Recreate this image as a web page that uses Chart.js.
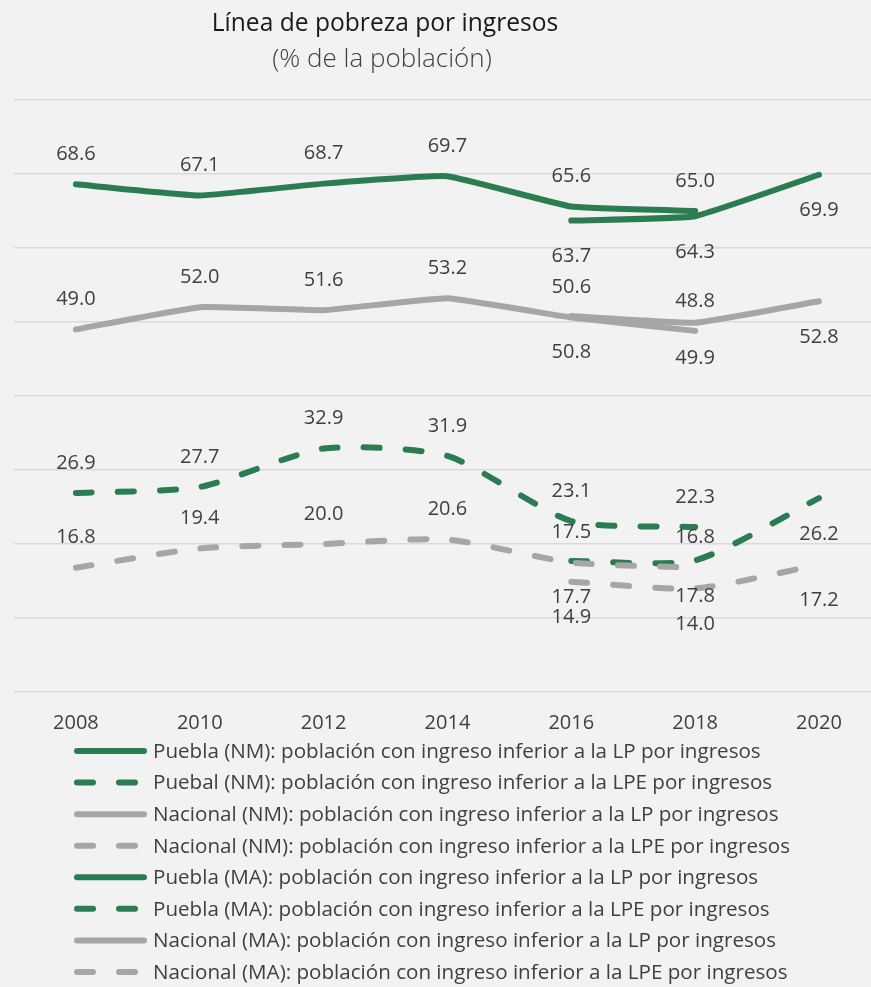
<!DOCTYPE html>
<html lang="es">
<head>
<meta charset="utf-8">
<title>Línea de pobreza por ingresos</title>
<script src="https://cdn.jsdelivr.net/npm/chart.js@4.4.1/dist/chart.umd.min.js"></script>
<style>
  html, body { margin: 0; padding: 0; background: #f2f2f2; }
  #wrap { width: 871px; height: 987px; position: relative; }
</style>
</head>
<body>
<div id="wrap"><canvas id="chart"></canvas></div>
<script>
// Data (null = no value for that year)
const years = [2008, 2010, 2012, 2014, 2016, 2018, 2020];
const pueblaNmLp    = [68.6, 67.1, 68.7, 69.7, 65.6, 65.0, null];
const pueblaNmLpe   = [26.9, 27.7, 32.9, 31.9, 23.1, 22.3, null];
const nacionalNmLp  = [49.0, 52.0, 51.6, 53.2, 50.6, 48.8, null];
const nacionalNmLpe = [16.8, 19.4, 20.0, 20.6, 17.5, 16.8, null];
const pueblaMaLp    = [null, null, null, null, 63.7, 64.3, 69.9];
const pueblaMaLpe   = [null, null, null, null, 17.7, 17.8, 26.2];
const nacionalMaLp  = [null, null, null, null, 50.8, 49.9, 52.8];
const nacionalMaLpe = [null, null, null, null, 14.9, 14.0, 17.2];
const seriesNames = [
  'Puebla (NM): población con ingreso inferior a la LP por ingresos',
  'Puebal (NM): población con ingreso inferior a la LPE por ingresos',
  'Nacional (NM): población con ingreso inferior a la LP por ingresos',
  'Nacional (NM): población con ingreso inferior a la LPE por ingresos',
  'Puebla (MA): población con ingreso inferior a la LP por ingresos',
  'Puebla (MA): población con ingreso inferior a la LPE por ingresos',
  'Nacional (MA): población con ingreso inferior a la LP por ingresos',
  'Nacional (MA): población con ingreso inferior a la LPE por ingresos'
];
const titleText = 'Línea de pobreza por ingresos';
const subtitleText = '(% de la población)';

// Styles
const FONT = "'Open Sans', 'Noto Sans', sans-serif";
const GREEN = '#2b7d51';
const GRAY = '#a6a6a6';
const TEXT = '#404040';
const DASH = [16, 26];

function points(vals) {
  return years.map((yr, i) => ({ x: yr, y: vals[i] }));
}

function series(idx, vals, color, dashed, labelPos) {
  return {
    label: seriesNames[idx],
    data: points(vals),
    borderColor: color,
    backgroundColor: color,
    borderWidth: 6,
    borderDash: dashed ? DASH : [],
    borderCapStyle: 'round',
    borderJoinStyle: 'round',
    tension: dashed ? 0.22 : 0.1,
    pointRadius: 0,
    pointHoverRadius: 0,
    fill: false,
    spanGaps: false,
    labelPos
  };
}

const datasets = [
  series(0, pueblaNmLp, GREEN, false, 'above'),
  series(1, pueblaNmLpe, GREEN, true, 'above'),
  series(2, nacionalNmLp, GRAY, false, 'above'),
  series(3, nacionalNmLpe, GRAY, true, 'above'),
  series(4, pueblaMaLp, GREEN, false, 'below'),
  series(5, pueblaMaLpe, GREEN, true, 'below'),
  series(6, nacionalMaLp, GRAY, false, 'below'),
  series(7, nacionalMaLpe, GRAY, true, 'below')
];

// titles, value labels and the one-column legend
const decor = {
  id: 'decor',
  afterDatasetsDraw(chart) {
    const c = chart.ctx;
    c.save();
    c.font = `20px ${FONT}`;
    c.fillStyle = TEXT;
    c.textAlign = 'center';
    c.textBaseline = 'middle';
    chart.data.datasets.forEach((ds, di) => {
      const meta = chart.getDatasetMeta(di);
      meta.data.forEach((pt, i) => {
        const v = ds.data[i].y;
        if (v === null) return;
        const dy = ds.labelPos === 'above' ? -30 : 36;
        c.fillText(v.toFixed(1), pt.x, pt.y + dy);
      });
    });
    c.restore();
  },
  afterDraw(chart) {
    const c = chart.ctx;
    c.save();
    c.textAlign = 'center';
    c.textBaseline = 'middle';
    c.fillStyle = '#1a1a1a';
    c.font = `24.6px ${FONT}`;
    c.fillText(titleText, 385, 24);
    c.fillStyle = TEXT;
    c.font = `300 26px ${FONT}`;
    c.fillText(subtitleText, 382, 60);

    // legend
    c.textAlign = 'left';
    c.font = `20.6px ${FONT}`;
    chart.data.datasets.forEach((ds, i) => {
      const y = 751 + i * 31.57;
      c.strokeStyle = ds.borderColor;
      c.lineWidth = 6;
      c.lineCap = 'round';
      c.setLineDash(ds.borderDash);
      c.beginPath();
      c.moveTo(77, y);
      c.lineTo(144, y);
      c.stroke();
      c.setLineDash([]);
      c.fillStyle = TEXT;
      c.fillText(ds.label, 153, y + 1);
    });
    c.restore();
  }
};

const ctx = document.getElementById('chart').getContext('2d');
const chart = new Chart(ctx, {
  type: 'line',
  data: { datasets },
  options: {
    responsive: true,
    maintainAspectRatio: false,
    animation: false,
    layout: { padding: { top: 100, left: 14, right: 0, bottom: 0 } },
    plugins: { legend: { display: false }, tooltip: { enabled: false } },
    scales: {
      x: {
        type: 'linear',
        min: 2007,
        max: 2020.84,
        grid: { display: false, drawTicks: false },
        border: { display: false },
        afterBuildTicks: s => { s.ticks = years.map(v => ({ value: v })); },
        afterFit: s => { s.height = 295; },
        ticks: {
          color: TEXT,
          font: { family: FONT, size: 20 },
          padding: 19,
          maxRotation: 0,
          autoSkip: false,
          callback: v => String(v)
        }
      },
      y: {
        min: 0,
        max: 80,
        grid: { color: '#d9d9d9', lineWidth: 1.5, drawTicks: false },
        border: { display: false },
        ticks: { display: false, stepSize: 10 },
        afterFit: s => { s.width = 0; }
      }
    }
  },
  plugins: [decor]
});
</script>
</body>
</html>
